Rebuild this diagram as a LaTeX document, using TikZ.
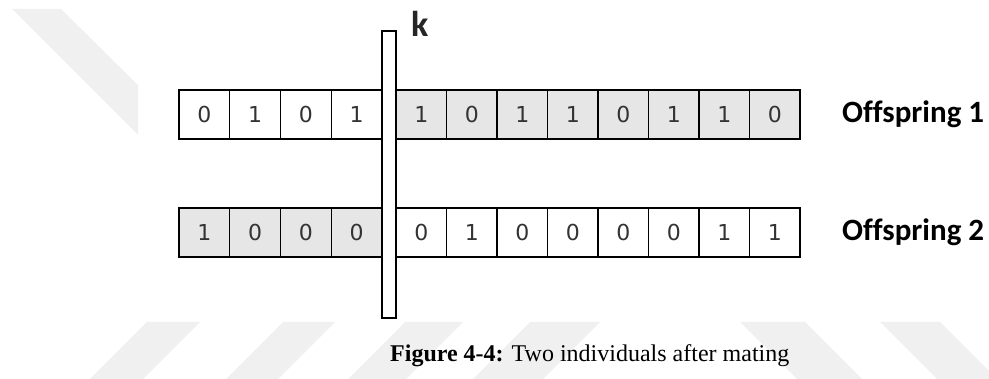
\documentclass[tikz,border=0pt]{standalone}
\usepackage{fontspec}
\setmainfont{Liberation Serif}
\newfontfamily\digitfont{DejaVu Sans}
\newfontfamily\calib[Ligatures=NoCommon]{Carlito}
\definecolor{wm}{RGB}{240,240,240}
\definecolor{shade}{RGB}{230,230,230}
\tikzset{
  cell/.style={draw=black, line width=1.3pt, minimum height=49pt, inner sep=0pt,
    text=black!80, font=\digitfont\fontsize{22}{22}\selectfont},
  lcell/.style={cell, minimum width=50.75pt},
  rcell/.style={cell, minimum width=50.5pt},
  shaded/.style={fill=shade},
  cutbar/.style={draw=black, line width=1.3pt, fill=white, inner sep=0pt,
    minimum width=14pt, minimum height=287pt},
  lbl/.style={anchor=base west, inner sep=0pt, font=\calib\bfseries\fontsize{31}{31}\selectfont},
  stripe/.style={fill=wm, draw=none}
}
\begin{document}
\begin{tikzpicture}[x=1pt,y=-1pt]
\useasboundingbox (0,0) rectangle (989,379);
% watermark stripes
\fill[wm] (12,9) -- (61,9) -- (138,85) -- (138,135) -- cycle;
\foreach \a/\b in {147/200,283/335,405/463,530/600}
  \fill[wm] (\a,322) -- (\b,322) -- (\b-57,379) -- (\a-57,379) -- cycle;
\foreach \a/\b in {740/805,880/940}
  \fill[wm] (\a,322) -- (\b,322) -- (\b+57,379) -- (\a+57,379) -- cycle;
% row 1
\foreach \v [count=\i] in {0,1,0,1}
  \node[lcell] (a\i) at ({179+50.75*(\i-0.5)},114.5) {\v};
\foreach \v [count=\i] in {1,0,1,1,0,1,1,0}
  \node[rcell,shaded] (b\i) at ({396+50.5*(\i-0.5)},114.5) {\v};
% row 2
\foreach \v [count=\i] in {1,0,0,0}
  \node[lcell,shaded] (c\i) at ({179+50.75*(\i-0.5)},232.5) {\v};
\foreach \v [count=\i] in {0,1,0,0,0,0,1,1}
  \node[rcell] (d\i) at ({396+50.5*(\i-0.5)},232.5) {\v};
% cut bar
\node[cutbar] (cut) at (389,174.5) {};
\node[anchor=base west, inner sep=0pt, font=\calib\bfseries\fontsize{36}{36}\selectfont, text=black!85] (k) at (411,37) {k};
% labels
\node[lbl] (o1) at (842,123) {Offspring 1};
\node[lbl] (o2) at (842,241) {Offspring 2};
% caption
\node[anchor=base west, inner sep=0pt, font=\fontsize{24}{24}\selectfont] (cap) at (390,362) {\textbf{Figure 4-4:} Two individuals after mating};
\end{tikzpicture}
\end{document}
